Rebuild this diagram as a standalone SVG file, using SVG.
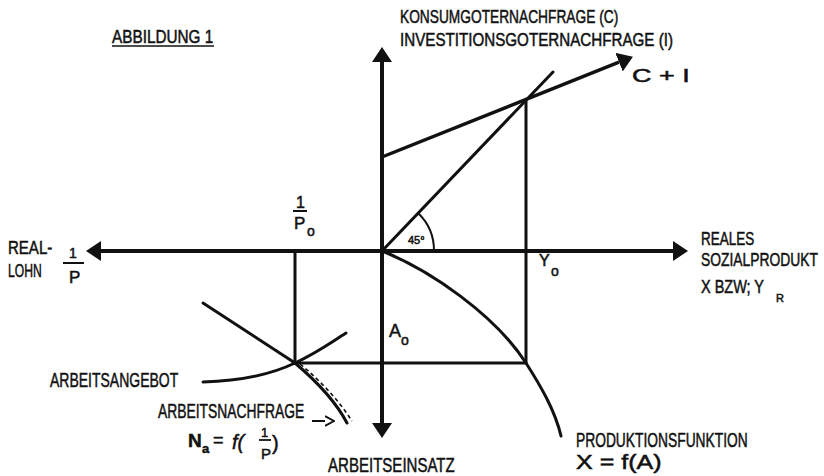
<svg xmlns="http://www.w3.org/2000/svg" width="824" height="476" viewBox="0 0 824 476">
<defs>
<marker id="ah" markerUnits="userSpaceOnUse" markerWidth="16" markerHeight="20" refX="0" refY="10" orient="auto-start-reverse" viewBox="0 0 16 20">
<path d="M0,0 L15,10 L0,20 z" fill="#111"/>
</marker>
<marker id="ahs" markerUnits="userSpaceOnUse" markerWidth="10" markerHeight="12" refX="0" refY="6" orient="auto" viewBox="0 0 10 12">
<path d="M0,1 L9,6 L0,11" fill="none" stroke="#111" stroke-width="2"/>
</marker>
</defs>
<style>
text{font-family:"Liberation Sans",Arial,sans-serif;fill:#111;stroke:#111;stroke-width:0.5px;}
.t{font-size:18.5px;}
.l{font-size:20px;}
.s{font-size:14px;}
.ax{stroke:#111;stroke-width:4;fill:none;}
.ln{stroke:#111;stroke-width:3;fill:none;stroke-linecap:round;}
.thin{stroke:#111;stroke-width:2;fill:none;}
</style>
<rect width="824" height="476" fill="#fff"/>
<g id="connectors">
<line class="ax" x1="382" y1="62" x2="382" y2="423" marker-start="url(#ah)" marker-end="url(#ah)"/>
<line class="ax" x1="101" y1="251" x2="673" y2="251" marker-start="url(#ah)" marker-end="url(#ah)"/>
<line class="ln" x1="382" y1="251" x2="553" y2="72"/>
<line class="ln" x1="382" y1="157" x2="619" y2="62.2" style="stroke-linecap:butt;stroke-width:3.5" marker-end="url(#ah)"/>
<line class="ln" x1="526" y1="100" x2="526" y2="363"/>
<line class="ln" x1="293" y1="363" x2="526" y2="363"/>
<line class="ln" x1="295" y1="251" x2="295" y2="363"/>
<path class="ln" d="M382,251 C430,270 495,315 526,363 C540,385 555,410 561,436"/>
<path class="ln" d="M203,382 C240,381 270,375 295,363 S330,343 346,333"/>
<path class="ln" d="M203,303 L295,363 C315,380 335,400 347,423"/>
<path d="M300,364 C322,382 340,402 352,421" stroke="#111" stroke-width="1.6" fill="none" stroke-dasharray="4,3"/>
<path class="thin" d="M434,251 A52,52 0 0 0 418,213"/>
<line class="thin" x1="312" y1="421" x2="325" y2="421" marker-end="url(#ahs)"/>
</g>
<g id="title">
<text class="t" transform="translate(112,43) scale(0.75,1)" textLength="135" lengthAdjust="spacingAndGlyphs">ABBILDUNG 1</text>
<line x1="112" y1="46" x2="214" y2="46" stroke="#111" stroke-width="1.5"/>
</g>
<g id="label-demand-axis">
<text class="t" transform="translate(400,23) scale(0.75,1)" textLength="291" lengthAdjust="spacingAndGlyphs">KONSUMGOTERNACHFRAGE (C)</text>
<text class="t" transform="translate(400,46) scale(0.75,1)" textLength="364" lengthAdjust="spacingAndGlyphs">INVESTITIONSGOTERNACHFRAGE (I)</text>
</g>
<g id="label-ci">
<text class="t" transform="translate(632,82) scale(0.75,1)" textLength="77" lengthAdjust="spacingAndGlyphs">C + I</text>
</g>
<g id="label-product-axis">
<text class="t" transform="translate(701,245) scale(0.75,1)" textLength="71" lengthAdjust="spacingAndGlyphs">REALES</text>
<text class="t" transform="translate(701,266) scale(0.75,1)" textLength="156" lengthAdjust="spacingAndGlyphs">SOZIALPRODUKT</text>
<text class="t" transform="translate(701,293) scale(0.75,1)" textLength="84" lengthAdjust="spacingAndGlyphs">X BZW; Y</text>
<text x="776" y="302" style="font-size:11px">R</text>
</g>
<g id="label-y0">
<text x="539" y="266" style="font-size:16px">Y</text>
<text x="551" y="276" class="s">o</text>
</g>
<g id="label-45">
<text x="408" y="244" style="font-size:11px">45°</text>
</g>
<g id="label-p0">
<text x="296" y="208" style="font-size:16px">1</text>
<line x1="293" y1="211" x2="307" y2="211" stroke="#111" stroke-width="2"/>
<text x="294" y="229" style="font-size:17px">P</text>
<text x="307" y="236" class="s">o</text>
</g>
<g id="label-reallohn">
<text class="t" transform="translate(8,254) scale(0.75,1)" textLength="59" lengthAdjust="spacingAndGlyphs">REAL-</text>
<text class="t" transform="translate(8,277) scale(0.75,1)" textLength="45" lengthAdjust="spacingAndGlyphs">LOHN</text>
<text x="69" y="258" style="font-size:14px">1</text>
<line x1="63" y1="263" x2="84" y2="263" stroke="#111" stroke-width="2"/>
<text x="69" y="283" style="font-size:17px">P</text>
</g>
<g id="label-a0">
<text x="389" y="337" style="font-size:18px">A</text>
<text x="401" y="345" class="s">o</text>
</g>
<g id="label-supply">
<text class="l" transform="translate(50,387) scale(0.75,1)" textLength="171" lengthAdjust="spacingAndGlyphs">ARBEITSANGEBOT</text>
</g>
<g id="label-demand">
<text class="l" transform="translate(158,418) scale(0.75,1)" textLength="195" lengthAdjust="spacingAndGlyphs">ARBEITSNACHFRAGE</text>
<text x="188" y="447" style="font-size:19px;font-weight:bold">N</text>
<text x="202" y="453" style="font-size:13px;font-weight:bold">a</text>
<text x="213" y="446" style="font-size:18px">=</text>
<text x="232" y="449" style="font-size:20px;font-style:italic">f(</text>
<text x="261" y="437" style="font-size:13px">1</text>
<line x1="259" y1="440" x2="271" y2="440" stroke="#111" stroke-width="1.8"/>
<text x="261" y="459" style="font-size:15px">P</text>
<text x="272" y="450" style="font-size:20px">)</text>
</g>
<g id="label-einsatz">
<text class="l" transform="translate(328,472) scale(0.75,1)" textLength="169" lengthAdjust="spacingAndGlyphs">ARBEITSEINSATZ</text>
</g>
<g id="label-production">
<text class="l" transform="translate(576,447) scale(0.75,1)" textLength="229" lengthAdjust="spacingAndGlyphs">PRODUKTIONSFUNKTION</text>
<text transform="translate(576,469) scale(0.8,1)" style="font-size:20px" textLength="107" lengthAdjust="spacingAndGlyphs">X = f(A)</text>
</g>
</svg>
